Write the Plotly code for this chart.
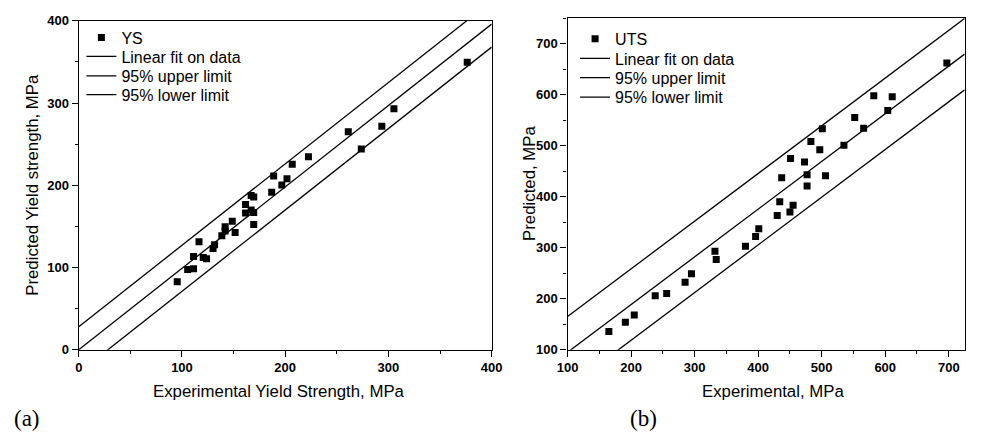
import plotly.graph_objects as go

# ---- data (a): yield strength ----
ys_exp = [95.4, 105.5, 111.2, 111.2, 116.5, 120.6, 123.8, 130.1, 131.6, 138.6, 141.8, 141.8,
          148.7, 151.5, 161.6, 161.6, 167.0, 169.5, 167.0, 169.5, 169.5, 186.9, 188.8, 196.7,
          201.7, 206.8, 222.5, 261.1, 273.7, 293.6, 305.3, 376.3]
ys_pred = [82.7, 97.5, 98.4, 113.3, 131.3, 112.1, 110.5, 123.0, 127.7, 138.7, 144.5, 149.7,
           156.3, 142.6, 166.2, 176.7, 187.7, 185.7, 170.0, 166.9, 152.4, 191.5, 211.2, 200.2,
           208.0, 225.6, 234.7, 265.2, 244.1, 271.9, 293.1, 349.5]
ys_fit_slope = 0.99
ys_fit_intercept = 0.0
ys_band = 28.0
ys_xrange = [0, 400]
ys_yrange = [0, 400]

# ---- data (b): ultimate tensile strength ----
uts_exp = [165, 191, 205, 238, 256, 285, 295, 332, 334, 380, 396, 401, 430, 434, 450, 455,
           437, 451, 473, 477, 477, 483, 497, 501, 506, 535, 552, 566, 582, 604, 611, 697]
uts_pred = [135.5, 154, 168, 206, 210, 232, 249, 293, 277, 303, 322, 337, 363, 390, 370, 383,
            437, 475, 468, 443, 421, 508, 492, 533, 441, 501, 555, 534, 598, 569, 596, 662]
uts_fit_slope = 0.935
uts_fit_intercept = 1.5
uts_band = 70.0
uts_xrange = [100, 725]
uts_yrange = [100, 750]

legend_names = ["Linear fit on data", "95% upper limit", "95% lower limit"]

W, H = 982, 444
def px_x(p): return p / W
def px_y(p): return (H - p) / H

fig = go.Figure()
legend_font = dict(family="Liberation Sans", size=16, color="black")
legend_layout = {}

def add_panel(xe, yp, slope, icpt, band, xr, name, xa, ya, leg_ids, leg_left, leg_centers):
    names = [name] + legend_names
    for lid, ctr in zip(leg_ids, leg_centers):
        key = "legend" if lid == 1 else f"legend{lid}"
        legend_layout[key] = dict(x=px_x(leg_left), y=px_y(ctr - 17), xanchor="left", yanchor="top",
                                  bgcolor="rgba(0,0,0,0)", borderwidth=0, font=legend_font,
                                  itemwidth=30, itemclick=False, itemdoubleclick=False)
    keys = ["legend" if i == 1 else f"legend{i}" for i in leg_ids]
    fig.add_trace(go.Scatter(x=xe, y=yp, mode="markers", name=names[0],
                             marker=dict(symbol="square", size=7, color="black"),
                             xaxis=xa, yaxis=ya, legend=keys[0]))
    for nm, off, k in zip(legend_names, [0.0, band, -band], keys[1:]):
        xs = list(xr)
        fig.add_trace(go.Scatter(x=xs, y=[slope * v + icpt + off for v in xs], mode="lines",
                                 name=nm, line=dict(color="black", width=1.3),
                                 xaxis=xa, yaxis=ya, legend=k))

add_panel(ys_exp, ys_pred, ys_fit_slope, ys_fit_intercept, ys_band, ys_xrange, "YS", "x", "y",
          [1, 2, 3, 4], 72, [31, 50.7, 70.7, 90.3])
add_panel(uts_exp, uts_pred, uts_fit_slope, uts_fit_intercept, uts_band, uts_xrange, "UTS", "x2", "y2",
          [5, 6, 7, 8], 577, [32.3, 52.7, 72.7, 92.7])

tickfont = dict(family="Liberation Sans", size=13, color="black", weight="bold")
def axis(rng, dtick, domain, anchor):
    return dict(range=rng, dtick=dtick, domain=domain, anchor=anchor,
                showline=True, linecolor="black", linewidth=1.3, mirror=True,
                ticks="outside", ticklen=6, tickwidth=1.2, tickcolor="black",
                showgrid=False, zeroline=False, tickfont=tickfont,
                minor=dict(dtick=dtick / 2, ticks="outside", ticklen=3, tickwidth=1.2,
                           tickcolor="black", showgrid=False))

fig.update_layout(
    width=W, height=H, margin=dict(l=0, r=0, t=0, b=0),
    paper_bgcolor="white", plot_bgcolor="white", showlegend=True,
    xaxis=axis(ys_xrange, 100, [px_x(69.3), px_x(491.7)], "y"),
    yaxis=axis(ys_yrange, 100, [px_y(354.7), px_y(14.3)], "x"),
    xaxis2=axis(uts_xrange, 100, [px_x(569.3), px_x(975.5)], "y2"),
    yaxis2=axis(uts_yrange, 100, [px_y(354.7), px_y(11.5)], "x2"),
    **legend_layout,
)

tf = dict(family="Liberation Sans", size=16.8, color="black")
ann = [
    dict(text="Experimental Yield Strength, MPa", x=px_x(274), y=px_y(398)),
    dict(text="Experimental, MPa", x=px_x(779), y=px_y(398)),
    dict(text="Predicted Yield strength, MPa", x=px_x(22), y=px_y(184.5), textangle=-90),
    dict(text="Predicted, MPa", x=px_x(531), y=px_y(183), textangle=-90),
]
for a in ann:
    fig.add_annotation(xref="paper", yref="paper", showarrow=False, font=tf,
                       xanchor="center", yanchor="middle", **a)
for t, xp in [("(a)", 16), ("(b)", 647)]:
    fig.add_annotation(text=t, xref="paper", yref="paper", x=px_x(xp), y=px_y(426),
                       showarrow=False, xanchor="center", yanchor="middle",
                       font=dict(family="Liberation Serif", size=23, color="black"))

fig.write_html("out.html")
